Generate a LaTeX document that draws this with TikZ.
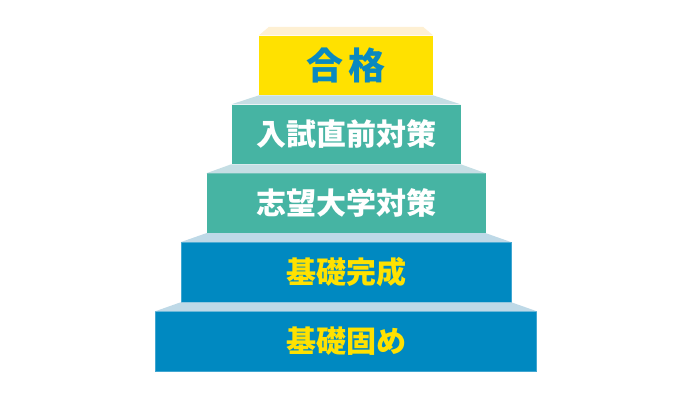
\documentclass[tikz,border=0pt]{standalone}
\usepackage{fontspec}
\newfontfamily\jpfont{Noto Sans CJK JP}
\usetikzlibrary{positioning}
\definecolor{goldyellow}{HTML}{FFE100}
\definecolor{textblue}{HTML}{0A89BF}
\definecolor{stepteal}{HTML}{46B4A3}
\definecolor{stepblue}{HTML}{0089C1}
\definecolor{capcream}{HTML}{FEF0D3}
\definecolor{capgray}{HTML}{C5DEE4}
\definecolor{capblue}{HTML}{BED9E7}

\begin{document}
\begin{tikzpicture}[x=1pt,y=1pt,
  stepbox/.style={inner sep=0pt,minimum height=59.5pt,
    font=\jpfont\bfseries\fontsize{30}{30}\selectfont},
  tealstep/.style={stepbox,fill=stepteal,text=white},
  bluestep/.style={stepbox,fill=stepblue,text=goldyellow,
    draw=stepblue!75!white,line width=0.6pt}]
  \useasboundingbox (0,0) rectangle (690,400);
  % steps
  \node[stepbox,fill=goldyellow,text=textblue,minimum width=174pt,
    font=\jpfont\bfseries\fontsize{37}{37}\selectfont]
    (goukaku) at (346,334.6) {合\hspace{0.14em}格};
  \node[tealstep,minimum width=229pt,below=9pt of goukaku] (chokuzen) {入試直前対策};
  \node[tealstep,minimum width=279pt,below=9pt of chokuzen] (shibou) {志望大学対策};
  \node[bluestep,minimum width=330pt,below=9pt of shibou] (kansei) {基礎完成};
  \node[bluestep,minimum width=381pt,below=9pt of kansei] (katame) {基礎固め};
  % tops of the steps
  \fill[capcream] ([xshift=10pt,yshift=8.5pt]goukaku.north west)
    -- ([xshift=-10pt,yshift=8.5pt]goukaku.north east)
    -- (goukaku.north east) -- (goukaku.north west) -- cycle;
  \fill[capgray] (goukaku.south west) -- (goukaku.south east)
    -- (chokuzen.north east) -- (chokuzen.north west) -- cycle;
  \fill[capgray] (chokuzen.south west) -- (chokuzen.south east)
    -- (shibou.north east) -- (shibou.north west) -- cycle;
  \fill[capblue] (shibou.south west) -- (shibou.south east)
    -- (kansei.north east) -- (kansei.north west) -- cycle;
  \fill[capblue] (kansei.south west) -- (kansei.south east)
    -- (katame.north east) -- (katame.north west) -- cycle;
\end{tikzpicture}
\end{document}
